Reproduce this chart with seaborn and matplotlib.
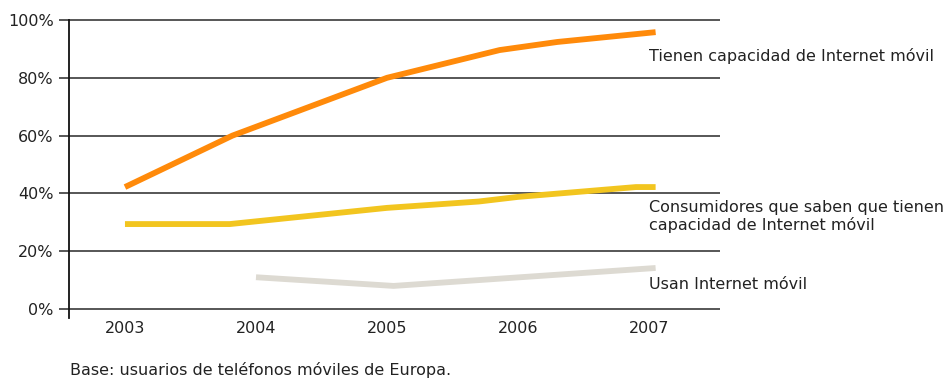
import matplotlib
matplotlib.use("Agg")
import matplotlib.pyplot as plt
import seaborn as sns
import pandas as pd

# Series readings (fractional years along the x axis, percentage values)
capacidad_x = [2003.0, 2003.82, 2005.0, 2005.86, 2006.3, 2007.05]
capacidad_y = [42.2, 60.0, 80.0, 89.6, 92.4, 95.8]

saben_x = [2003.0, 2003.8, 2005.0, 2005.7, 2006.0, 2006.9, 2007.05]
saben_y = [29.4, 29.4, 35.0, 37.2, 38.8, 42.2, 42.2]

usan_x = [2004.0, 2005.05, 2007.05]
usan_y = [11.0, 8.0, 14.2]

series_names = ["capacidad", "saben", "usan"]
series_colors = ["#ff8a0a", "#f2c51f", "#dddad2"]
series_labels = [
    "Tienen capacidad de Internet móvil",
    "Consumidores que saben que tienen\ncapacidad de Internet móvil",
    "Usan Internet móvil",
]
label_y = [87.5, 32.0, 8.6]

years = [2003, 2004, 2005, 2006, 2007]
y_ticks = [0, 20, 40, 60, 80, 100]
y_tick_labels = ["0%", "20%", "40%", "60%", "80%", "100%"]
footnote = "Base: usuarios de teléfonos móviles de Europa."

frames = []
for name, xs, ys in [("capacidad", capacidad_x, capacidad_y),
                     ("saben", saben_x, saben_y),
                     ("usan", usan_x, usan_y)]:
    frames.append(pd.DataFrame({"anio": xs, "valor": ys, "serie": name}))
df = pd.concat(frames, ignore_index=True)

sns.set_style("white")
plt.rcParams["font.family"] = ["DejaVu Sans"]

FS = 11.5
TXT = "#222222"

fig = plt.figure(figsize=(9.43, 3.78), dpi=100)
ax = fig.add_axes([0.0732, 0.1595, 0.6904, 0.7876])

# horizontal gridlines with short outward ticks
for v in y_ticks:
    ax.plot([2002.573 - 0.08, 2007.542], [v, v], color="#3a3a3a", lw=1.2,
            clip_on=False, zorder=1, solid_capstyle="butt")

sns.lineplot(data=df, x="anio", y="valor", hue="serie", hue_order=series_names,
             palette=dict(zip(series_names, series_colors)), linewidth=4.2,
             legend=False, ax=ax, zorder=3, estimator=None, sort=False)
for ln in ax.get_lines():
    ln.set_solid_capstyle("butt")
    ln.set_solid_joinstyle("round")

ax.set_xlim(2002.573, 2007.542)
ax.set_ylim(-3, 100)
ax.set_xticks(years)
ax.set_xticklabels([str(y) for y in years], fontsize=FS, color=TXT)
ax.set_yticks(y_ticks)
ax.set_yticklabels(y_tick_labels, fontsize=FS, color=TXT)
ax.tick_params(axis="x", length=0, pad=2.5)
ax.tick_params(axis="y", length=0, pad=11)
ax.set_xlabel("")
ax.set_ylabel("")

for side in ["top", "right", "bottom"]:
    ax.spines[side].set_visible(False)
ax.spines["left"].set_color("#111111")
ax.spines["left"].set_linewidth(1.3)

for text, yv in zip(series_labels, label_y):
    ax.text(2007.0, yv, text, fontsize=FS, color=TXT,
            ha="left", va="center", linespacing=1.1, clip_on=False)

fig.text(70 / 943, 1 - 370 / 378, footnote, fontsize=FS, color=TXT,
         ha="left", va="center")

fig.savefig("out.png", dpi=100, facecolor="white")
